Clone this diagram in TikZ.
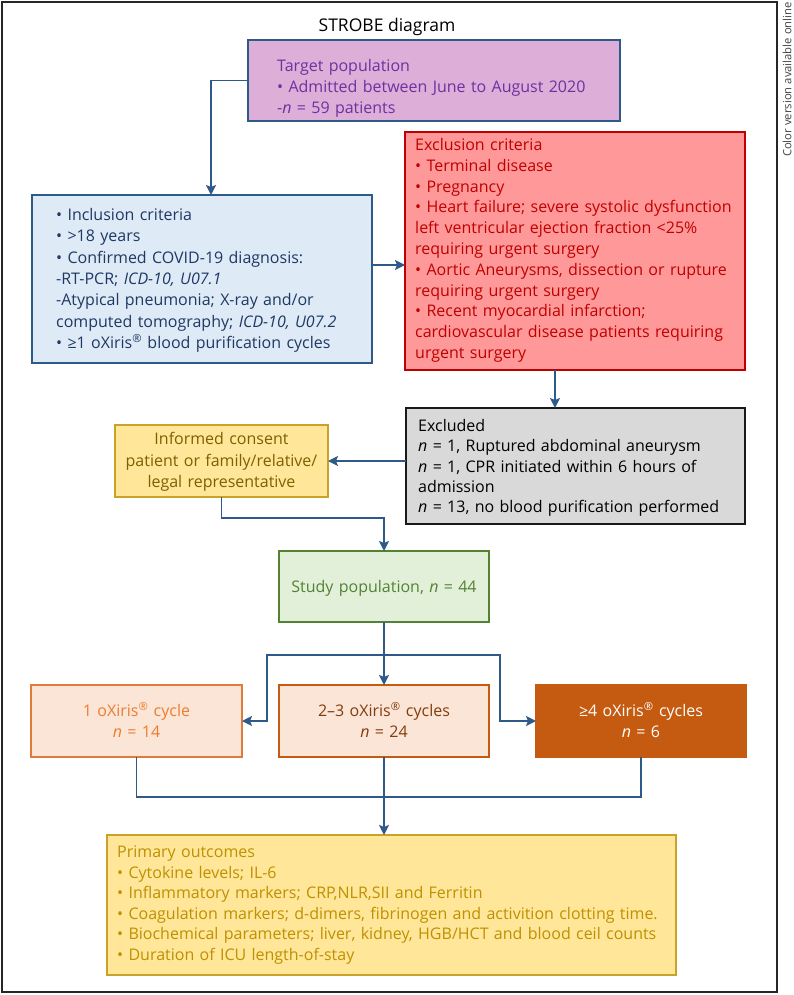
\documentclass[tikz,border=0pt]{standalone}
\usepackage{fontspec}
\setmainfont{Open Sans}
\usetikzlibrary{arrows.meta,calc}
\definecolor{arrowblue}{HTML}{2E5A8A}
\definecolor{tgtfill}{HTML}{DCAED8}
\definecolor{tgttext}{HTML}{7030A0}
\definecolor{incfill}{HTML}{DEEBF7}
\definecolor{inctext}{HTML}{1F3864}
\definecolor{excfill}{HTML}{FF9999}
\definecolor{excred}{HTML}{C00000}
\definecolor{greyfill}{HTML}{D9D9D9}
\definecolor{yelfill}{HTML}{FFE699}
\definecolor{goldline}{HTML}{C9A227}
\definecolor{goldtext}{HTML}{7F6000}
\definecolor{outtext}{HTML}{BF9000}
\definecolor{grnfill}{HTML}{E2F0D9}
\definecolor{grnline}{HTML}{548235}
\definecolor{orfill}{HTML}{FBE5D6}
\definecolor{orline}{HTML}{E07B39}
\definecolor{ortext}{HTML}{ED7D31}
\definecolor{brline}{HTML}{C55A11}
\definecolor{brtext}{HTML}{843C0C}
\begin{document}
\begin{tikzpicture}[x=1pt,y=-1pt,
  box/.style={draw, line width=1.8pt, anchor=north west, inner sep=0pt, outer sep=0pt},
  txt/.style={inner sep=0pt, anchor=base west, align=left, text width=620pt, font=\fontsize{16}{21}\selectfont},
  ctxt/.style={inner sep=0pt, anchor=base, align=center, text width=300pt, font=\fontsize{16}{21.5}\selectfont},
  arr/.style={draw=arrowblue, line width=1.8pt, -{Stealth[length=10pt,width=10pt,inset=2pt]}},
  lin/.style={draw=arrowblue, line width=1.8pt}]
\useasboundingbox (0,0) rectangle (793,995);
% frame
\draw[line width=1.3pt, draw=black!85] (2,2) rectangle (777,992);
\node[rotate=90, anchor=east, inner sep=0pt, font=\fontsize{11.3}{13}\selectfont, text=black!75] (colornote) at (787,2) {Color version available online};
\node[inner sep=0pt, font=\fontsize{17.5}{20}\selectfont] (title) at (387,27) {STROBE diagram};

% boxes
\node[box, fill=tgtfill, draw=arrowblue, minimum width=372, minimum height=81] (target) at (248,40) {};
\node[box, fill=incfill, draw=arrowblue, minimum width=340, minimum height=168] (incl) at (32,195) {};
\node[box, fill=excfill, draw=excred, minimum width=340, minimum height=238] (excl) at (405,132) {};
\node[box, fill=greyfill, draw=black!90, minimum width=339, minimum height=116] (excluded) at (406,408) {};
\node[box, fill=yelfill, draw=goldline, minimum width=213, minimum height=72] (informed) at (115,425) {};
\node[box, fill=grnfill, draw=grnline, minimum width=210, minimum height=71] (study) at (279,551) {};
\node[box, fill=orfill, draw=orline, minimum width=211, minimum height=72] (box1) at (31,685) {};
\node[box, fill=orfill, draw=brline, minimum width=210, minimum height=72] (box2) at (279,685) {};
\node[box, fill=brline, draw=brline, minimum width=210, minimum height=72] (box3) at (536,685) {};
\node[box, fill=yelfill, draw=goldline, minimum width=569, minimum height=140] (outcomes) at (107,835) {};

% texts
\node[txt, text=tgttext] (targetT) at (277,71.5) {Target population\\ • Admitted between June to August 2020\\ -\textit{n} = 59 patients};
\node[txt, text=inctext, font=\fontsize{16}{21.3}\selectfont] (inclT) at (56,220.5) {• Inclusion criteria\\ • >18 years\\ • Confirmed COVID-19 diagnosis:\\ -RT-PCR; \textit{ICD-10, U07.1}\\ -Atypical pneumonia; X-ray and/or\\ computed tomography; \textit{ICD-10, U07.2}\\ • ≥1 oXiris\textsuperscript{®} blood purification cycles};
\node[txt, text=excred, font=\fontsize{16}{20.8}\selectfont] (exclT) at (415,150.5) {Exclusion criteria\\ • Terminal disease\\ • Pregnancy\\ • Heart failure; severe systolic dysfunction\\ left ventricular ejection fraction <25\%\\ requiring urgent surgery\\ • Aortic Aneurysms, dissection or rupture\\ requiring urgent surgery\\ • Recent myocardial infarction;\\ cardiovascular disease patients requiring\\ urgent surgery};
\node[txt, text=black, font=\fontsize{16}{20.3}\selectfont] (excludedT) at (418,431.5) {Excluded\\ \textit{n} = 1, Ruptured abdominal aneurysm\\ \textit{n} = 1, CPR initiated within 6 hours of\\ admission\\ \textit{n} = 13, no blood purification performed};
\node[ctxt, text=goldtext] (informedT) at (221.5,444.5) {Informed consent\\ patient or family/relative/\\ legal representative};
\node[ctxt, text=grnline] (studyT) at (384,592.5) {Study population, \textit{n} = 44};
\node[ctxt, text=ortext, font=\fontsize{16}{21}\selectfont] (box1T) at (136.5,716.5) {1 oXiris\textsuperscript{®} cycle\\ \textit{n} = 14};
\node[ctxt, text=brtext, font=\fontsize{16}{21}\selectfont] (box2T) at (384,716.5) {2–3 oXiris\textsuperscript{®} cycles\\ \textit{n} = 24};
\node[ctxt, text=white, font=\fontsize{16}{21}\selectfont] (box3T) at (641,716.5) {≥4 oXiris\textsuperscript{®} cycles\\ \textit{n} = 6};
\node[txt, text=outtext, font=\fontsize{16}{20.6}\selectfont] (outcomesT) at (117,857.5) {Primary outcomes\\ • Cytokine levels; IL-6\\ • Inflammatory markers; CRP,NLR,SII and Ferritin\\ • Coagulation markers; d-dimers, fibrinogen and activition clotting time.\\ • Biochemical parameters; liver, kidney, HGB/HCT and blood ceil counts\\ • Duration of ICU length-of-stay};

% connectors
\draw[arr] (target.west) -| ([xshift=9pt]incl.north);
\draw[arr] ([yshift=14pt]incl.east) -- ([yshift=14pt]incl.east -| excl.west);
\draw[arr] ([xshift=-20pt]excl.south) -- ([xshift=-20pt]excl.south |- excluded.north);
\draw[arr] (excluded.west |- informed.east) -- (informed.east);
\draw[arr] (informed.south) -- ++(0,21) -| (study.north);
\coordinate (split) at ($(study.south)+(0,33)$);
\draw[lin] (study.south) -- (split);
\draw[arr] (split) -- (box2.north);
\draw[arr] (split) -| ($(box1.east)+(25,0)$) -- (box1.east);
\draw[arr] (split) -| ($(box3.west)+(-36,0)$) -- (box3.west);
\coordinate (join) at ($(box2.south)+(0,40)$);
\draw[lin] (box1.south) |- (join) -| (box3.south);
\draw[arr] (box2.south) -- (box2.south |- outcomes.north);
\end{tikzpicture}
\end{document}
